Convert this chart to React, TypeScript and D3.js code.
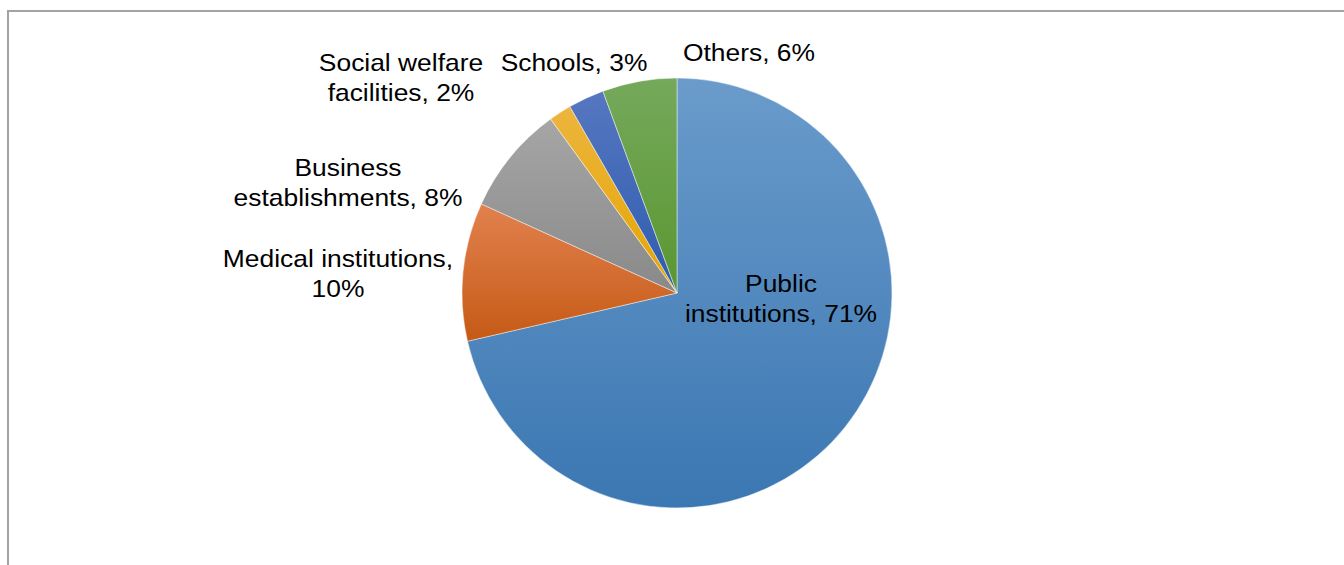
import React from "react";
import * as d3 from "d3";

const categories = [
  "Public institutions",
  "Medical institutions",
  "Business establishments",
  "Social welfare facilities",
  "Schools",
  "Others",
];
const values = [71.4, 10.4, 8.2, 1.7, 2.7, 5.6];
const pctLabels = ["71%", "10%", "8%", "2%", "3%", "6%"];
const labelLines = [
  ["Public", "institutions, 71%"],
  ["Medical institutions,", "10%"],
  ["Business", "establishments, 8%"],
  ["Social welfare", "facilities, 2%"],
  ["Schools, 3%"],
  ["Others, 6%"],
];
const topColors = ["#6a9bcb", "#e2814f", "#a6a6a6", "#ecb53e", "#5677c0", "#75a95b"];
const bottomColors = ["#3b77b2", "#c55a15", "#898989", "#e5a500", "#2e5cae", "#5a9631"];
// label centre positions (x, first baseline y)
const labelPos = [
  [781, 292],
  [338, 267],
  [348, 176],
  [401, 71],
  [574, 71],
  [749, 61],
];

export default function App() {
  const W = 1344, H = 565;
  const cx = 677, cy = 293, r = 215;
  const pie = d3.pie<number>().sort(null).value((d) => d)(values);
  const arc = d3.arc<d3.PieArcDatum<number>>().innerRadius(0).outerRadius(r);
  const lineH = 30;
  return (
    <svg
      width={W}
      height={H}
      style={{ position: "absolute", left: 0, top: 0 }}
      fontFamily="'Liberation Sans', Arial, sans-serif"
    >
      <defs>
        {categories.map((c, i) => (
          <linearGradient key={c} id={`g${i}`} x1="0" y1="0" x2="0" y2="1">
            <stop offset="0" stopColor={topColors[i]} />
            <stop offset="1" stopColor={bottomColors[i]} />
          </linearGradient>
        ))}
      </defs>
      <rect x={0} y={0} width={W} height={H} fill="#fff" />
      <line x1={8} y1={11} x2={W} y2={11} stroke="#a3a3a3" strokeWidth={2} />
      <line x1={8} y1={10} x2={8} y2={H} stroke="#a3a3a3" strokeWidth={2} />
      <g transform={`translate(${cx},${cy})`}>
        {pie.map((d, i) => (
          <path
            key={categories[i]}
            d={arc(d) || ""}
            fill={`url(#g${i})`}
            stroke="#ffffff"
            strokeOpacity={0.6}
            strokeWidth={0.75}
          />
        ))}
      </g>
      {labelLines.map((lines, i) => (
        <text
          key={categories[i]}
          transform={`translate(${labelPos[i][0]},${labelPos[i][1]}) scale(1.1,1)`}
          textAnchor="middle"
          fontSize={24}
          fill="#000"
          data-pct={pctLabels[i]}
        >
          {lines.map((l, j) => (
            <tspan key={j} x={0} dy={j === 0 ? 0 : lineH}>
              {l}
            </tspan>
          ))}
        </text>
      ))}
    </svg>
  );
}
